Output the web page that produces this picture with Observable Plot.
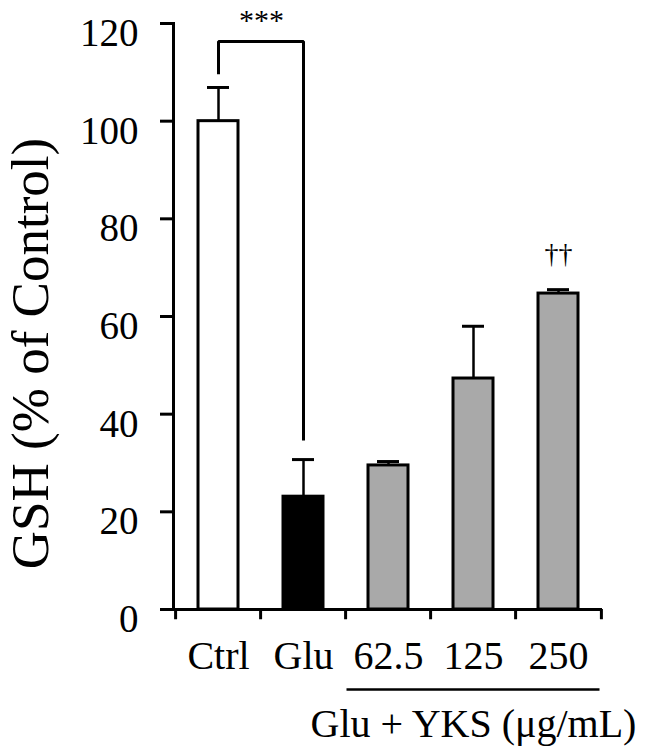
<!DOCTYPE html>
<html><head><meta charset="utf-8">
<script src="https://cdn.jsdelivr.net/npm/d3@7"></script>
<script src="https://cdn.jsdelivr.net/npm/@observablehq/plot@0.6"></script>
<style>body{margin:0;background:#fff}</style>
</head><body><div id="chart"></div>
<script>
const categories = ["Ctrl", "Glu", "62.5", "125", "250"];
const means = [100, 23.1, 29.5, 47.3, 64.7];
const errors = [6.9, 7.6, 0.8, 10.7, 0.8];
const fills = ["#ffffff", "#000000", "#a9a9a9", "#a9a9a9", "#a9a9a9"];
const yTicks = [0, 20, 40, 60, 80, 100, 120];
const bracketX = ["Ctrl", "Ctrl", "Glu", "Glu"];
const bracketY = [109.6, 116.3, 116.3, 34.6];
const yLabel = "GSH (% of Control)";
const groupLabel = "Glu + YKS (μg/mL)";
const sigLabel = "***";
const daggerLabel = "††";

const data = categories.map((c, i) => ({cat: c, mean: means[i], top: means[i] + errors[i], fill: fills[i]}));
const bracket = bracketX.map((x, i) => ({x, y: bracketY[i]}));
const font = "'Liberation Serif','Times New Roman',serif";
const half = 429 / 5 / 2;

const chart = Plot.plot({
  width: 646, height: 753,
  marginLeft: 173, marginRight: 44, marginTop: 23, marginBottom: 144,
  style: {fontFamily: font, background: "#fff", color: "#000", overflow: "visible"},
  x: {type: "band", domain: categories, paddingInner: 0.53, paddingOuter: 0.265},
  y: {domain: [0, 120]},
  color: {type: "identity"},
  marks: [
    Plot.barY(data, {x: "cat", y: "mean", fill: "fill", stroke: "#000", strokeWidth: 3}),
    Plot.ruleX(data, {x: "cat", y1: "mean", y2: "top", stroke: "#000", strokeWidth: 2.5}),
    Plot.tickY(data, {x: "cat", y: "top", stroke: "#000", strokeWidth: 3, insetLeft: 9, insetRight: 9}),
    Plot.line(bracket, {x: "x", y: "y", stroke: "#000", strokeWidth: 3, strokeLinejoin: "miter", strokeLinecap: "butt", curve: "linear"}),
    Plot.text([sigLabel], {x: () => categories[0], y: () => 118.7, dx: half, text: d => d, lineAnchor: "bottom", fontSize: 30}),
    Plot.text([daggerLabel], {x: () => categories[4], y: () => 70.9, text: d => d, lineAnchor: "bottom", fontSize: 28}),
    Plot.frame({anchor: "left", strokeWidth: 3}),
    Plot.ruleY([0], {strokeWidth: 3}),
    Plot.ruleX(categories, {x: d => d, y1: 0, y2: -2.1, dx: -half, strokeWidth: 3}),
    Plot.ruleX([categories[4]], {x: d => d, y1: 0, y2: -2.1, dx: half, strokeWidth: 3}),
    Plot.axisY({ticks: yTicks, tickSize: 13, tickFormat: () => "", strokeWidth: 3, label: null}),
    Plot.axisY({ticks: yTicks, tickSize: 0, tickPadding: 35, fontSize: 39, dy: 10, label: null}),
    Plot.axisX({tickSize: 0, tickPadding: 31, fontSize: 40, label: null}),
    Plot.ruleY([-16.4], {x1: () => categories[2], x2: () => categories[4], insetLeft: -21.5, insetRight: -21.5, strokeWidth: 2.5}),
    Plot.text([groupLabel], {x: () => categories[3], y: () => -26.2, text: d => d, lineAnchor: "bottom", fontSize: 40}),
    Plot.text([yLabel], {frameAnchor: "left", textAnchor: "middle", rotate: -90, dx: -142, dy: 37, text: d => d, fontSize: 53})
  ]
});
document.getElementById("chart").appendChild(chart);
</script>
</body></html>
